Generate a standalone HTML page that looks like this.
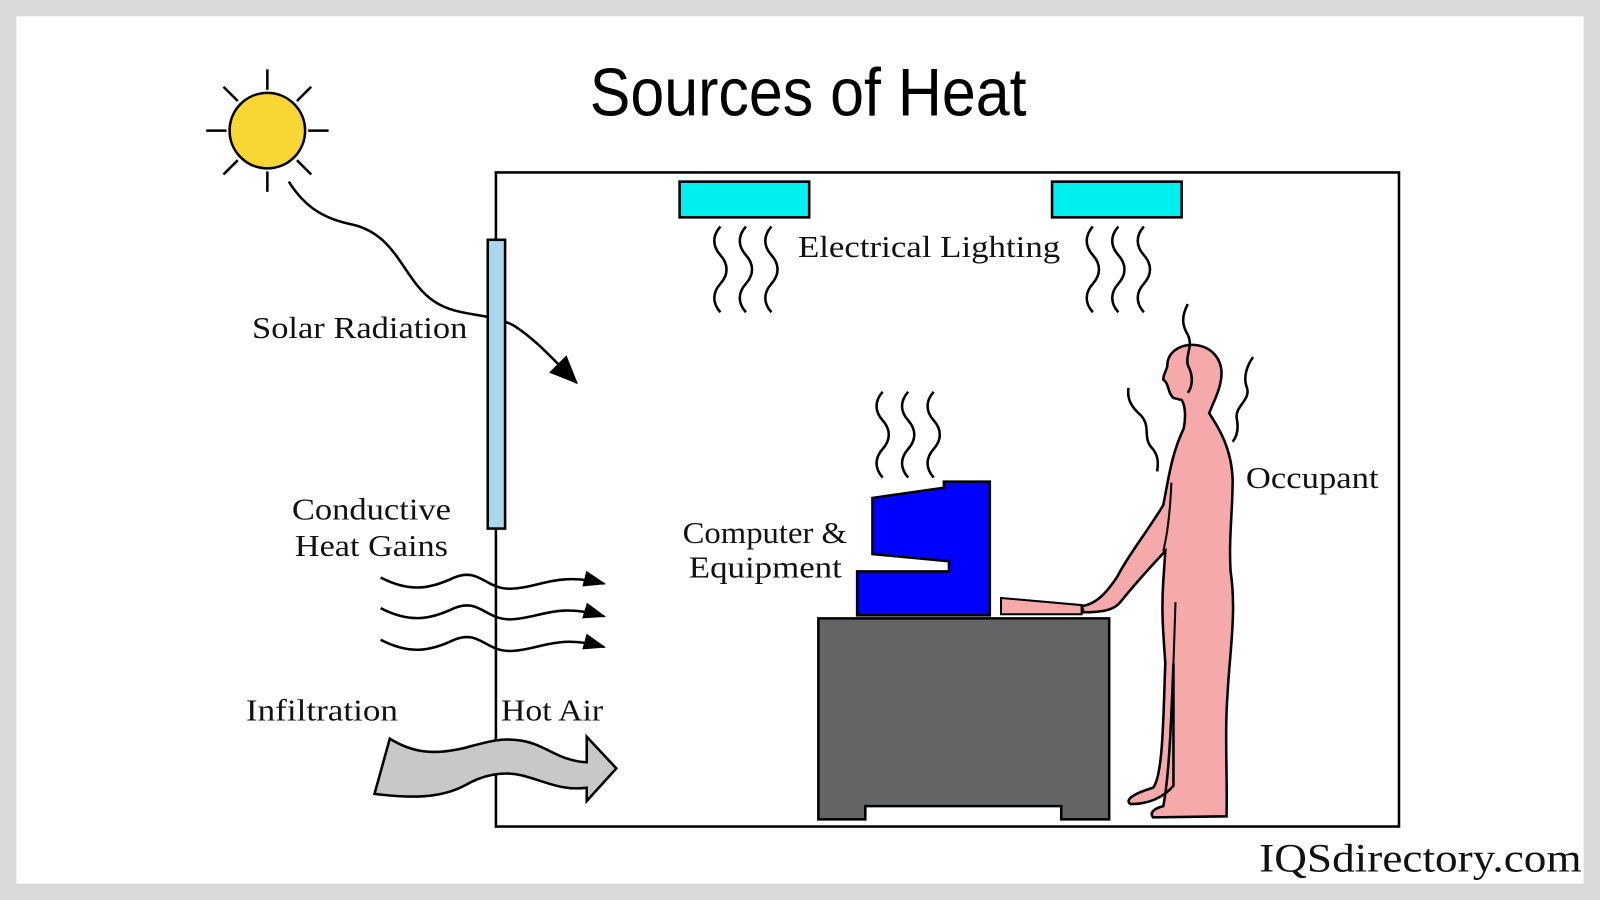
<!DOCTYPE html>
<html><head><meta charset="utf-8"><style>html,body{margin:0;padding:0;background:#d9d9d9}svg{display:block}</style></head>
<body>
<svg width="1600" height="900" viewBox="0 0 1568 882" preserveAspectRatio="none" xmlns="http://www.w3.org/2000/svg">
<defs>
<marker id="ah" markerWidth="22" markerHeight="18" refX="20" refY="9" orient="auto" markerUnits="userSpaceOnUse"><path d="M0,1 L22,9 L0,17 z" fill="#000"/></marker>
<marker id="ah2" markerWidth="28" markerHeight="24" refX="26" refY="12" orient="auto" markerUnits="userSpaceOnUse"><path d="M0,0 L28,12 L0,24 z" fill="#000"/></marker>
<path id="sq" d="M0 0 c-8 9 -8 19 0 28 c8 9 8 19 0 28 c-8 9 -8 19 0 28" fill="none" stroke="#000" stroke-width="2.5"/>
</defs>
<rect x="0" y="0" width="1568" height="882" fill="#d9d9d9"/>
<rect x="16" y="16" width="1536" height="850" fill="#fff"/>
<text x="792" y="113" text-anchor="middle" font-family="Liberation Sans Narrow, Liberation Sans, sans-serif" font-size="66" textLength="428" lengthAdjust="spacingAndGlyphs">Sources of Heat</text>
<g stroke="#000" stroke-width="2.5">
<line x1="262" y1="68" x2="262" y2="88"/><line x1="262" y1="168" x2="262" y2="188"/>
<line x1="202" y1="128" x2="222" y2="128"/><line x1="302" y1="128" x2="322" y2="128"/>
<line x1="219" y1="85" x2="233" y2="99"/><line x1="291" y1="157" x2="305" y2="171"/>
<line x1="305" y1="85" x2="291" y2="99"/><line x1="233" y1="157" x2="219" y2="171"/>
</g>
<circle cx="262" cy="128" r="37" fill="#f8d634" stroke="#000" stroke-width="2.5"/>
<path d="M283 178 C300 205 320 215 345 220 C390 230 395 275 425 295 C450 312 480 305 505 320 C525 333 540 350 565 375" fill="none" stroke="#000" stroke-width="2.5" marker-end="url(#ah2)"/>
<rect x="486" y="169" width="885" height="641" fill="none" stroke="#000" stroke-width="2.5"/>
<rect x="478" y="235" width="17" height="283" fill="#a9d8ee" stroke="#000" stroke-width="2.5"/>
<rect x="666" y="178" width="127" height="35" fill="#00f0f0" stroke="#000" stroke-width="2.5"/>
<rect x="1031" y="178" width="127" height="35" fill="#00f0f0" stroke="#000" stroke-width="2.5"/>
<use href="#sq" x="706" y="222"/><use href="#sq" x="731" y="222"/><use href="#sq" x="756" y="222"/>
<use href="#sq" x="1071" y="222"/><use href="#sq" x="1096" y="222"/><use href="#sq" x="1121" y="222"/>
<use href="#sq" x="865" y="384"/><use href="#sq" x="890" y="384"/><use href="#sq" x="915" y="384"/>
<g font-family="Liberation Serif, DejaVu Serif, serif" font-size="30" fill="#111" lengthAdjust="spacingAndGlyphs">
<text x="782" y="252" textLength="257" lengthAdjust="spacingAndGlyphs">Electrical Lighting</text>
<text x="247" y="331" textLength="211" lengthAdjust="spacingAndGlyphs">Solar Radiation</text>
<text x="286" y="509" textLength="156" lengthAdjust="spacingAndGlyphs">Conductive</text>
<text x="289" y="545" textLength="150" lengthAdjust="spacingAndGlyphs">Heat Gains</text>
<text x="669" y="532" textLength="161" lengthAdjust="spacingAndGlyphs">Computer &amp;</text>
<text x="675" y="566" textLength="150" lengthAdjust="spacingAndGlyphs">Equipment</text>
<text x="1221" y="478" textLength="130" lengthAdjust="spacingAndGlyphs">Occupant</text>
<text x="241" y="706" textLength="149" lengthAdjust="spacingAndGlyphs">Infiltration</text>
<text x="491" y="706" textLength="100" lengthAdjust="spacingAndGlyphs">Hot Air</text>
</g>
<text x="1234" y="854" font-family="Liberation Serif, DejaVu Serif, serif" font-size="39" fill="#111" textLength="316" lengthAdjust="spacingAndGlyphs">IQSdirectory.com</text>
<g fill="none" stroke="#000" stroke-width="2.5" marker-end="url(#ah)">
<path d="M373 566 C400 580 420 578 445 566 C470 556 475 577 500 577 C530 576 545 560 592 572"/>
<path d="M373 596 C400 610 420 608 445 596 C470 586 475 607 500 607 C530 606 545 590 592 604"/>
<path d="M373 627 C400 641 420 639 445 627 C470 617 475 638 500 638 C530 637 545 621 592 634"/>
</g>
<path d="M382 724 C405 738 425 740 455 733 C475 728 490 722 512 726 C535 730 548 746 575 747 L575 722 L604 753 L575 785 L575 772 C550 775 535 766 512 760 C492 755 472 760 455 770 C430 783 400 782 367 778 Z" fill="#c8c8c8" stroke="#000" stroke-width="2.5"/>
<path d="M802 606 L1087 606 L1087 803 L1040 803 L1040 790 L848 790 L848 803 L802 803 Z" fill="#636466" stroke="#000" stroke-width="2.5"/>
<path d="M840 603 L840 560 L930 560 L930 550 L855 543 L855 488 L925 478 L925 472 L970 472 L970 603 Z" fill="#0000ff" stroke="#000" stroke-width="2.5"/>
<path d="M981 586 L1060 593 L1060 602 L981 602 Z" fill="#f5a9aa" stroke="#000" stroke-width="2"/>
<path d="M1168 338 C1185 338 1198 350 1197 368 C1196 382 1190 392 1185 405 C1195 420 1207 440 1208 470 C1208 500 1204 530 1206 560 C1212 600 1205 640 1203 680 C1200 720 1203 760 1202 800 L1130 801 C1126 796 1132 792 1140 790 C1146 760 1148 700 1150 650 L1150 770 C1140 782 1125 788 1108 788 C1102 784 1110 778 1130 772 C1140 760 1140 700 1142 650 C1140 620 1138 600 1140 570 L1142 540 C1128 555 1110 575 1098 590 C1092 598 1080 600 1062 600 L1060 594 C1075 592 1085 580 1095 565 C1105 545 1125 520 1140 495 C1145 470 1148 445 1160 420 C1162 410 1162 398 1158 392 L1150 390 C1144 385 1146 376 1140 372 C1140 366 1144 362 1144 358 C1144 346 1155 338 1168 338 Z" fill="#f5a9aa" stroke="#000" stroke-width="2.5"/>
<path d="M1152 590 L1150 650" stroke="#000" stroke-width="2" fill="none"/>
<path d="M1148 473 C1147 495 1145 520 1140 540" stroke="#000" stroke-width="2" fill="none"/>
<g fill="none" stroke="#000" stroke-width="2.5">
<path d="M1164 298 C1158 310 1158 318 1164 328 C1170 340 1160 350 1165 360 C1170 370 1168 380 1164 385"/>
<path d="M1228 350 C1222 358 1218 370 1222 380 C1226 392 1210 398 1212 410 C1214 420 1212 428 1208 433"/>
<path d="M1106 380 C1104 392 1110 400 1118 407 C1128 418 1120 428 1128 438 C1136 446 1135 455 1134 462"/>
</g>
</svg>
</body></html>
